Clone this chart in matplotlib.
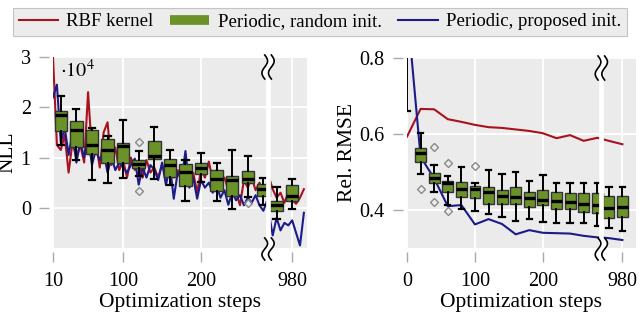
import numpy as np
import matplotlib
matplotlib.use("Agg")
import matplotlib.pyplot as plt
from matplotlib.lines import Line2D
from matplotlib.patches import Polygon

plt.rcParams['font.family'] = ['Liberation Serif', 'DejaVu Serif']
plt.rcParams['mathtext.fontset'] = 'stix'

# ---------------- data ----------------
# NLL (x1e4) lines, every 5 steps
nll_steps = list(range(10, 290, 5)) + list(range(950, 1000, 5))
nll_rbf = [3.0, 1.25, 1.15, 1.45, 0.7, 1.3, 1.0, 1.25, 0.9, 2.3,
           1.1, 1.3, 0.8, 1.5, 1.7, 0.85, 1.2, 0.75, 0.95, 0.6,
           1.0, 0.75, 0.9, 0.6, 0.95, 0.7, 0.8, 0.6, 0.85, 0.65,
           0.8, 0.6, 0.75, 0.55, 0.8, 0.5, 0.7, 0.3, 0.75, 0.6,
           0.92, 0.55, 0.75, 0.45, 0.6, 0.35, 0.5, 0.3, 0.05, 0.55,
           0.4, 0.6, 0.35, 0.5, 0.3, 0.45,
           0.62, 0.37, 0.2, 0.3, 0.1, 0.3, 0.15, 0.08, 0.2, 0.37]
nll_prop = [2.2, 2.45, 1.3, 1.6, 1.05, 1.5, 0.9, 1.3, 1.0, 1.4,
            0.85, 1.15, 0.95, 1.1, 0.7, 1.0, 0.75, 0.9, 0.8, 0.7,
            0.85, 0.98, 0.46, 0.8, 0.6, 0.85, 0.76, 0.55, 0.9, 0.45,
            0.85, 0.18, 0.7, 0.55, 1.13, 0.4, 0.6, 0.18, 0.55, 0.4,
            0.5, 0.3, 0.45, 0.2, 0.35, 0.06, 0.3, 0.15, 0.25, 0.05,
            0.2, 0.1, 0.25, 0.05, -0.06, 0.15,
            -0.1, -0.55, -0.2, -0.45, -0.3, -0.35, -0.25, -0.5, -0.75, -0.1]

# NLL boxes (periodic, random init.)
nll_box_pos = [20, 40, 60, 80, 100, 120, 140, 160, 180, 200, 220, 240, 260, 280, 960, 980]
nll_whislo = [1.25, 0.95, 0.55, 0.50, 0.59, 0.63, 0.57, 0.46, 0.14, 0.52, 0.14, -0.03, 0.21, 0.05, -0.23, -0.02]
nll_q1 = [1.52, 1.21, 1.07, 0.89, 0.90, 0.79, 0.97, 0.62, 0.44, 0.67, 0.34, 0.24, 0.49, 0.24, -0.07, 0.14]
nll_med = [1.84, 1.54, 1.25, 1.15, 1.22, 0.87, 1.04, 0.85, 0.72, 0.79, 0.57, 0.55, 0.57, 0.38, 0.05, 0.24]
nll_q3 = [1.93, 1.73, 1.54, 1.37, 1.28, 0.95, 1.33, 0.97, 0.87, 0.90, 0.76, 0.63, 0.73, 0.48, 0.14, 0.46]
nll_whishi = [2.23, 1.97, 1.58, 1.42, 1.74, 1.13, 1.60, 1.15, 0.95, 1.10, 0.90, 1.15, 1.04, 0.59, 0.41, 0.57]
nll_fliers = [[], [], [], [], [], [1.31, 0.34], [], [], [], [], [], [], [0.10], [], [], []]

# Rel. RMSE lines, every 20 steps
rmse_steps = [0, 20, 40, 60, 80, 100, 120, 140, 160, 180, 200, 220, 240, 260, 280, 960, 980]
rmse_rbf = [0.593, 0.666, 0.665, 0.639, 0.632, 0.624, 0.618, 0.616, 0.612, 0.608,
            0.602, 0.589, 0.597, 0.582, 0.590, 0.582, 0.573]
rmse_prop = [0.935, 0.54, 0.483, 0.410, 0.413, 0.362, 0.376, 0.363, 0.336, 0.347,
             0.340, 0.339, 0.338, 0.332, 0.328, 0.326, 0.321]

# Rel. RMSE boxes
rmse_box_pos = [0, 20, 40, 60, 80, 100, 120, 140, 160, 180, 200, 220, 240, 260, 280, 960, 980]
rmse_whislo = [0.66, 0.495, 0.448, 0.413, 0.402, 0.397, 0.389, 0.382, 0.372, 0.376, 0.369, 0.367, 0.365, 0.365, 0.358, 0.352, 0.345]
rmse_q1 = [0.85, 0.527, 0.472, 0.448, 0.435, 0.432, 0.416, 0.416, 0.415, 0.409, 0.413, 0.403, 0.402, 0.396, 0.393, 0.378, 0.382]
rmse_med = [0.90, 0.549, 0.485, 0.470, 0.455, 0.455, 0.448, 0.438, 0.435, 0.431, 0.426, 0.424, 0.422, 0.416, 0.413, 0.406, 0.409]
rmse_q3 = [0.95, 0.564, 0.498, 0.477, 0.475, 0.463, 0.460, 0.453, 0.460, 0.448, 0.453, 0.448, 0.446, 0.446, 0.444, 0.437, 0.437]
rmse_whishi = [1.00, 0.602, 0.518, 0.489, 0.514, 0.470, 0.505, 0.495, 0.501, 0.477, 0.492, 0.472, 0.472, 0.472, 0.470, 0.461, 0.461]
rmse_fliers = [[], [0.455], [0.565, 0.422], [0.525, 0.397], [], [0.517], [], [], [], [], [], [], [], [], [], [], []]

legend_labels = ["RBF kernel", "Periodic, random init.", "Periodic, proposed init."]
nll_xticks = [10, 100, 200, 980]
rmse_xticks = [0, 100, 200, 980]
nll_yticks = [0, 1, 2, 3]
rmse_yticks = [0.4, 0.6, 0.8]

# ---------------- style ----------------
RED = '#A8121E'
BLUE = '#1B1B8A'
GREEN = '#6A9228'
BG = '#EBEBEB'
SHIFT = 663      # axis break: steps above 600 are shifted left
BREAK_X = 286
FS_TICK = 14.5
FS_LAB = 15.5


def xt(s):
    s = np.asarray(s, dtype=float)
    return np.where(s > 600, s - SHIFT, s)


fig = plt.figure(figsize=(6.4, 3.12), dpi=100)
ax1 = fig.add_axes([53 / 640, 64 / 312, 254 / 640, 191 / 312])
ax2 = fig.add_axes([407 / 640, 64 / 312, 229 / 640, 190 / 312])


def style(ax):
    ax.set_facecolor(BG)
    for s in ax.spines.values():
        s.set_visible(False)
    ax.spines['left'].set_position(('outward', 3))
    ax.spines['bottom'].set_position(('outward', 3))
    ax.set_axisbelow(True)
    ax.grid(True, color='white', lw=1.3)
    ax.tick_params(direction='out', length=7, width=1, color='#AAAAAA',
                   labelsize=FS_TICK)
    ax.tick_params(axis='x', pad=7)
    ax.tick_params(axis='y', pad=6)


def boxes(ax, pos, wlo, q1, med, q3, whi, fl):
    stats = []
    for i in range(len(pos)):
        stats.append(dict(whislo=wlo[i], q1=q1[i], med=med[i], q3=q3[i],
                          whishi=whi[i], fliers=fl[i]))
    ax.bxp(stats, positions=xt(pos), widths=16, patch_artist=True,
           manage_ticks=False, capwidths=8,
           boxprops=dict(facecolor=GREEN, edgecolor='#333333', lw=1.0),
           medianprops=dict(color='black', lw=2.4),
           whiskerprops=dict(color='black', lw=1.4),
           capprops=dict(color='black', lw=1.6),
           flierprops=dict(marker='D', mfc='none', mec='#8A8A8A', ms=4.5, mew=1.0),
           zorder=3)


def axis_break(ax):
    ax.axvline(BREAK_X, color='white', lw=3.4, zorder=6)
    fig.canvas.draw()
    xb = ax.transData.transform((BREAK_X, 0))[0]
    bb = ax.get_window_extent()
    inv = fig.transFigure.inverted()
    t = np.linspace(0, 1, 60)
    for (ya, yb) in [(bb.y1 + 2, bb.y1 - 22), (bb.y0 + 10, bb.y0 - 12)]:
        ys = ya + (yb - ya) * t
        wave = 2.8 * np.sin(2 * np.pi * t)
        xl = xb - 3.3 + wave
        xr = xb + 3.3 + wave
        poly = np.vstack([np.column_stack([xl, ys]), np.column_stack([xr[::-1], ys[::-1]])])
        fig.add_artist(Polygon(inv.transform(poly), closed=True, facecolor='white',
                               edgecolor='none', zorder=10))
        for xs in (xl, xr):
            pts = inv.transform(np.column_stack([xs, ys]))
            fig.add_artist(Line2D(pts[:, 0], pts[:, 1], color='black', lw=1.2, zorder=11))


# ---------------- left: NLL ----------------
style(ax1)
ax1.plot(xt(nll_steps), nll_rbf, color=RED, lw=1.5, zorder=2)
ax1.plot(xt(nll_steps), nll_prop, color=BLUE, lw=1.5, zorder=2)
boxes(ax1, nll_box_pos, nll_whislo, nll_q1, nll_med, nll_q3, nll_whishi, nll_fliers)
ax1.set_xlim(10, 336)
ax1.set_ylim(-0.8, 3.0)
ax1.set_xticks(xt(nll_xticks))
ax1.set_xticklabels([str(v) for v in nll_xticks])
ax1.set_yticks(nll_yticks)
ax1.set_yticklabels([str(v) for v in nll_yticks])
ax1.set_xlabel("Optimization steps", fontsize=FS_LAB, labelpad=2)
ax1.set_ylabel("NLL", fontsize=FS_LAB, labelpad=2)
ax1.text(0.028, 0.985, r'$\cdot 10^4$', transform=ax1.transAxes, va='top', ha='left',
         fontsize=FS_TICK, zorder=7)

# ---------------- right: Rel. RMSE ----------------
style(ax2)
ax2.plot(xt(rmse_steps), rmse_rbf, color=RED, lw=1.5, zorder=2)
ax2.plot(xt(rmse_steps), rmse_prop, color=BLUE, lw=1.5, zorder=2)
boxes(ax2, rmse_box_pos, rmse_whislo, rmse_q1, rmse_med, rmse_q3, rmse_whishi, rmse_fliers)
ax2.set_xlim(0, 337)
ax2.set_ylim(0.3, 0.8)
ax2.set_xticks(xt(rmse_xticks))
ax2.set_xticklabels([str(v) for v in rmse_xticks])
ax2.set_yticks(rmse_yticks)
ax2.set_yticklabels([f"{v:.1f}" for v in rmse_yticks])
ax2.set_xlabel("Optimization steps", fontsize=FS_LAB, labelpad=2)
ax2.set_ylabel("Rel. RMSE", fontsize=FS_LAB, labelpad=2)

axis_break(ax1)
axis_break(ax2)

# ---------------- legend ----------------
handles = [Line2D([], [], color=RED, lw=1.5),
           Line2D([], [], color=GREEN, lw=7, solid_capstyle='butt'),
           Line2D([], [], color=BLUE, lw=1.5)]
leg = fig.legend(handles, legend_labels, loc='lower left', ncol=3, mode='expand',
                 bbox_to_anchor=(13 / 640, 1 - 36 / 312, 614 / 640, 34 / 312),
                 fontsize=13.5, frameon=True, fancybox=False, framealpha=1,
                 facecolor='#ECECEC', edgecolor='#C4C4C4', handlelength=2.1,
                 handletextpad=0.45, borderaxespad=0, borderpad=0.3)
leg.get_frame().set_linewidth(0.8)

fig.savefig("out.png", dpi=100)
